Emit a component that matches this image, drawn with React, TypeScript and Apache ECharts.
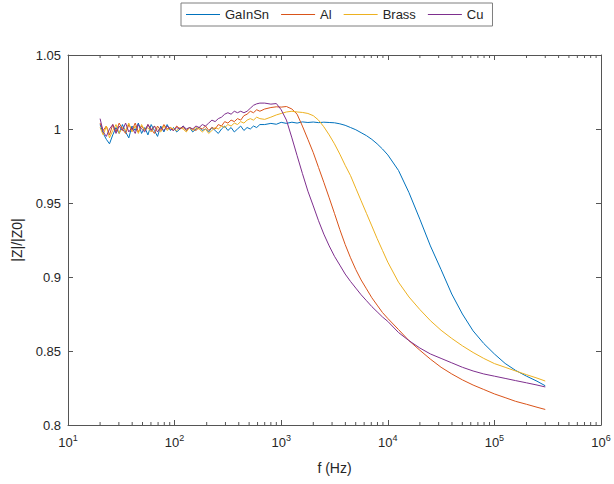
import React, { useEffect, useRef } from "react";
import * as echarts from "echarts";

const seriesNames = ["GaInSn", "Al", "Brass", "Cu"];
const seriesColors = ["#0072BD", "#D95319", "#EDB120", "#7E2F8E"];

const freqNoise = [20, 21.4, 22.9, 24.5, 26.3, 28.2, 30.2, 32.4, 34.7, 37.2, 39.8, 42.7, 45.7, 49, 52.5, 56.2, 60.3, 64.6, 69.2, 74.1, 79.4, 85.1, 91.2, 97.7, 104.7, 112.2, 120.2, 128.8, 138, 147.9, 158.5, 169.8, 182, 195, 208.9, 223.9, 239.9, 257, 275.4, 295.1, 316.2, 338.8, 363.1, 389, 416.9, 446.7, 478.6, 512.9, 549.5, 588.8, 631];

const freqSmooth = [700, 800, 900, 1000, 1120, 1260, 1410, 1580, 1780, 2000, 2240, 2510, 2820, 3160, 3550, 3980, 4470, 5010, 5620, 6310, 7080, 7940, 8910, 10000, 12600, 15800, 20000, 25100, 31600, 39800, 50100, 63100, 79400, 100000, 126000, 158000, 200000, 251000, 300000];

const gainsnNoise = [1.003, 0.997, 0.993, 0.990, 0.996, 1.001, 0.997, 1.003, 0.998, 0.994, 1.002, 0.999, 1.004, 0.997, 1.001, 0.996, 1.003, 0.999, 0.995, 1.002, 0.998, 1.003, 0.999, 1.001, 0.998, 1.000, 1.002, 0.999, 1.001, 0.998, 1.000, 1.001, 0.999, 1.000, 0.998, 1.001, 0.999, 0.997, 1.000, 1.002, 0.999, 1.001, 0.998, 1.000, 1.002, 0.999, 1.001, 1.000, 1.002, 1.001, 1.003];
const gainsnSmooth = [1.003, 1.0038, 1.0032, 1.0045, 1.0038, 1.0046, 1.004, 1.0048, 1.0044, 1.0047, 1.0043, 1.0046, 1.0044, 1.0042, 1.0035, 1.0025, 1.001, 0.9995, 0.9975, 0.9955, 0.993, 0.990, 0.9865, 0.9825, 0.972, 0.957, 0.939, 0.921, 0.905, 0.8885, 0.875, 0.8636, 0.8551, 0.848, 0.8416, 0.8369, 0.833, 0.8296, 0.8265];

const alNoise = [1.004, 0.999, 1.002, 0.996, 1.003, 0.998, 1.004, 1.000, 0.997, 1.003, 0.999, 1.004, 0.998, 1.002, 0.999, 1.003, 1.000, 0.997, 1.002, 0.999, 1.003, 1.000, 1.001, 0.999, 1.002, 1.000, 1.001, 0.999, 1.001, 1.000, 0.999, 1.001, 1.000, 1.002, 0.999, 1.001, 1.000, 1.003, 1.002, 1.005, 1.004, 1.006, 1.005, 1.007, 1.006, 1.009, 1.010, 1.012, 1.011, 1.013, 1.012];
const alSmooth = [1.0135, 1.0145, 1.015, 1.0148, 1.0152, 1.0135, 1.010, 1.002, 0.993, 0.984, 0.974, 0.964, 0.9535, 0.943, 0.932, 0.922, 0.913, 0.905, 0.898, 0.892, 0.886, 0.881, 0.876, 0.872, 0.8645, 0.857, 0.8505, 0.8445, 0.839, 0.8345, 0.8305, 0.827, 0.824, 0.821, 0.8185, 0.816, 0.814, 0.812, 0.8105];

const brassNoise = [1.001, 0.996, 1.002, 0.994, 0.999, 1.003, 0.997, 1.001, 0.999, 1.004, 0.998, 1.002, 0.997, 1.003, 0.999, 1.001, 0.998, 1.002, 1.000, 0.998, 1.002, 0.999, 1.001, 1.000, 0.999, 1.001, 1.000, 0.998, 1.001, 0.999, 1.001, 1.000, 0.998, 1.000, 0.997, 0.999, 1.001, 1.000, 1.002, 1.001, 1.003, 1.002, 1.004, 1.003, 1.005, 1.004, 1.006, 1.007, 1.006, 1.008, 1.007];
const brassSmooth = [1.0065, 1.008, 1.0095, 1.0105, 1.0115, 1.012, 1.0115, 1.0112, 1.0105, 1.009, 1.006, 1.0015, 0.996, 0.990, 0.983, 0.9755, 0.9685, 0.960, 0.9515, 0.943, 0.9345, 0.926, 0.918, 0.910, 0.8965, 0.8865, 0.878, 0.8705, 0.864, 0.8585, 0.8535, 0.849, 0.845, 0.8415, 0.839, 0.8365, 0.834, 0.8317, 0.8297];

const cuNoise = [1.007, 0.998, 0.995, 1.000, 1.003, 0.997, 1.002, 0.999, 1.004, 0.998, 1.001, 0.997, 1.003, 1.000, 0.998, 1.003, 0.999, 1.002, 0.998, 1.001, 0.999, 1.002, 1.000, 0.999, 1.001, 1.000, 1.002, 1.000, 1.001, 1.000, 1.002, 1.001, 1.003, 1.002, 1.004, 1.006, 1.005, 1.007, 1.008, 1.010, 1.011, 1.010, 1.012, 1.011, 1.012, 1.011, 1.012, 1.014, 1.016, 1.017, 1.0175];
const cuSmooth = [1.0175, 1.0168, 1.0172, 1.013, 1.006, 0.994, 0.982, 0.970, 0.958, 0.948, 0.938, 0.929, 0.921, 0.914, 0.908, 0.902, 0.897, 0.8925, 0.888, 0.884, 0.880, 0.8765, 0.873, 0.870, 0.8625, 0.857, 0.852, 0.848, 0.845, 0.842, 0.839, 0.8365, 0.8345, 0.833, 0.8315, 0.830, 0.8285, 0.827, 0.8257];

const minorTickFreqs = [20, 30, 40, 50, 60, 70, 80, 90, 200, 300, 400, 500, 600, 700, 800, 900, 2000, 3000, 4000, 5000, 6000, 7000, 8000, 9000, 20000, 30000, 40000, 50000, 60000, 70000, 80000, 90000, 200000, 300000, 400000, 500000, 600000, 700000, 800000, 900000];

const noiseValues = [gainsnNoise, alNoise, brassNoise, cuNoise];
const smoothValues = [gainsnSmooth, alSmooth, brassSmooth, cuSmooth];

const FONT = "'Liberation Sans', Arial, Helvetica, sans-serif";
const AXIS = "#555555";
const TEXT = "#262626";

export default function App() {
  const ref = useRef<HTMLDivElement>(null);
  useEffect(() => {
    if (!ref.current) return;
    const chart = echarts.init(ref.current, undefined, { renderer: "svg" });
    const lineSeries = seriesNames.map((name, k) => ({
      name,
      type: "line",
      xAxisIndex: 0,
      yAxisIndex: 0,
      symbol: "none",
      showSymbol: false,
      smooth: false,
      lineStyle: { color: seriesColors[k], width: 1 },
      itemStyle: { color: seriesColors[k] },
      data: freqNoise
        .map((f, i) => [f, noiseValues[k][i]])
        .concat(freqSmooth.map((f, i) => [f, smoothValues[k][i]])),
      z: 3,
    }));
    const option = {
      animation: false,
      backgroundColor: "#ffffff",
      textStyle: { fontFamily: FONT },
      legend: {
        data: seriesNames,
        icon: "rect",
        left: 181,
        top: 3,
        orient: "horizontal",
        itemWidth: 34,
        itemHeight: 1,
        itemGap: 12,
        padding: [5, 9, 5, 5],
        borderColor: "#7f7f7f",
        borderWidth: 1,
        backgroundColor: "#ffffff",
        textStyle: { fontFamily: FONT, fontSize: 13, color: TEXT },
      },
      grid: { left: 68, right: 13, top: 55, bottom: 59, containLabel: false },
      xAxis: [
        {
          type: "log",
          logBase: 10,
          min: 10,
          max: 1e6,
          position: "bottom",
          name: "f (Hz)",
          nameLocation: "middle",
          nameGap: 36,
          nameTextStyle: { fontFamily: FONT, fontSize: 14, color: TEXT },
          axisLine: { show: true, lineStyle: { color: AXIS, width: 1 } },
          axisTick: { show: true, inside: true, length: 5, lineStyle: { color: AXIS } },
          splitLine: { show: false },
          axisLabel: {
            margin: 8,
            fontFamily: FONT,
            formatter: (v: number) => `{b|10}{s|${Math.round(Math.log10(v))}}`,
            rich: {
              b: { fontSize: 13, color: TEXT, fontFamily: FONT },
              s: { fontSize: 9, color: TEXT, fontFamily: FONT, padding: [0, 0, 9, 0] },
            },
          },
        },
        {
          type: "log",
          logBase: 10,
          min: 10,
          max: 1e6,
          position: "top",
          axisLine: { show: true, lineStyle: { color: AXIS, width: 1 } },
          axisTick: { show: true, inside: true, length: 5, lineStyle: { color: AXIS } },
          axisLabel: { show: false },
          splitLine: { show: false },
        },
      ],
      yAxis: [
        {
          type: "value",
          min: 0.8,
          max: 1.05,
          interval: 0.05,
          position: "left",
          name: "|Z|/|Z0|",
          nameLocation: "middle",
          nameGap: 44,
          nameTextStyle: { fontFamily: FONT, fontSize: 14, color: TEXT },
          axisLine: { show: true, lineStyle: { color: AXIS, width: 1 } },
          axisTick: { show: true, inside: true, length: 5, lineStyle: { color: AXIS } },
          splitLine: { show: false },
          axisLabel: { fontFamily: FONT, fontSize: 13, color: TEXT, margin: 7 },
        },
        {
          type: "value",
          min: 0.8,
          max: 1.05,
          interval: 0.05,
          position: "right",
          axisLine: { show: true, lineStyle: { color: AXIS, width: 1 } },
          axisTick: { show: true, inside: true, length: 5, lineStyle: { color: AXIS } },
          axisLabel: { show: false },
          splitLine: { show: false },
        },
      ],
      series: [
        ...lineSeries,
        {
          type: "custom",
          name: "minorTicks",
          xAxisIndex: 0,
          yAxisIndex: 0,
          silent: true,
          z: 2,
          data: minorTickFreqs.map((f) => [f, 0.8]),
          encode: { x: 0, y: 1 },
          renderItem: (params: any, api: any) => {
            const cs = params.coordSys;
            const x = api.coord([api.value(0), api.value(1)])[0];
            const bottom = cs.y + cs.height;
            const top = cs.y;
            const style = { stroke: AXIS, lineWidth: 1 };
            return {
              type: "group",
              children: [
                { type: "line", shape: { x1: x, y1: bottom, x2: x, y2: bottom - 3 }, style },
                { type: "line", shape: { x1: x, y1: top, x2: x, y2: top + 3 }, style },
              ],
            };
          },
        },
      ],
    };
    chart.setOption(option as any);
    return () => chart.dispose();
  }, []);
  return (
    <div
      ref={ref}
      style={{ position: "absolute", left: 0, top: 0, width: 614, height: 484, background: "#fff" }}
    />
  );
}
